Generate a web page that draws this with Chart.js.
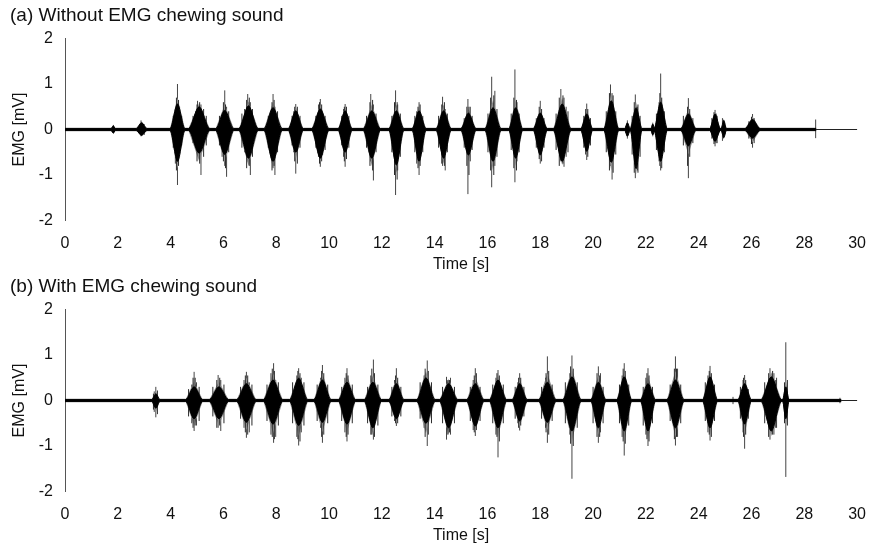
<!DOCTYPE html>
<html><head><meta charset="utf-8">
<script src="https://cdn.jsdelivr.net/npm/chart.js@4/dist/chart.umd.min.js"></script>
<style>
body{margin:0;background:#fff;width:879px;height:549px;overflow:hidden;position:relative}
canvas{position:absolute;left:0}
</style></head><body>
<canvas id="ca" width="879" height="275" style="top:0px"></canvas>
<canvas id="cb" width="879" height="275" style="top:271px"></canvas>
<script>
// ---------- axis ticks ----------
const xTicks = [0, 2, 4, 6, 8, 10, 12, 14, 16, 18, 20, 22, 24, 26, 28, 30];
const yTicks = [-2, -1, 0, 1, 2];

// ---------- panel (a) : Without EMG chewing sound ----------
const aBase = 0.025;     // baseline noise amplitude [mV]
const aEnd = 28.45;      // end of recorded trace [s]
const aBurstT    = [1.83, 2.9, 4.26, 5.08, 6.05, 6.95, 7.88, 8.74, 9.67, 10.61, 11.62, 12.55, 13.41, 14.34, 15.28, 16.21, 17.07, 18.0, 18.83, 19.76, 20.69, 21.3, 21.63, 22.26, 22.56, 23.61, 24.62, 24.95, 26.04];
const aBurstHalf = [0.08, 0.2, 0.28, 0.4, 0.34, 0.36, 0.34, 0.28, 0.32, 0.26, 0.32, 0.28, 0.26, 0.28, 0.28, 0.3, 0.26, 0.26, 0.33, 0.22, 0.28, 0.1, 0.22, 0.07, 0.25, 0.28, 0.2, 0.1, 0.28];
const aCoreHi    = [0.08, 0.15, 0.56, 0.5, 0.42, 0.52, 0.48, 0.41, 0.45, 0.41, 0.41, 0.41, 0.41, 0.41, 0.36, 0.48, 0.48, 0.36, 0.56, 0.34, 0.63, 0.15, 0.48, 0.12, 0.6, 0.34, 0.34, 0.2, 0.22];
const aCoreLo    = [-0.08, -0.13, -0.7, -0.52, -0.55, -0.63, -0.7, -0.5, -0.63, -0.5, -0.63, -0.78, -0.7, -0.63, -0.56, -0.7, -0.63, -0.56, -0.7, -0.48, -0.72, -0.15, -0.86, -0.12, -0.7, -0.36, -0.26, -0.18, -0.19];
const aOuterHi   = [0.09, 0.18, 0.7, 0.58, 0.55, 0.62, 0.6, 0.5, 0.55, 0.5, 0.55, 0.55, 0.5, 0.55, 0.45, 0.65, 0.65, 0.45, 0.7, 0.45, 0.8, 0.18, 0.6, 0.14, 0.75, 0.45, 0.38, 0.24, 0.28];
const aOuterLo   = [-0.09, -0.15, -0.85, -0.7, -0.72, -0.8, -0.85, -0.65, -0.72, -0.62, -0.8, -0.95, -0.85, -0.75, -0.7, -0.9, -0.8, -0.65, -0.78, -0.58, -0.9, -0.18, -0.98, -0.14, -0.8, -0.55, -0.32, -0.22, -0.28];
// tallest spikes
const aSpikeT  = [1.83, 2.88, 3.0, 4.26, 4.18, 4.34, 5.02, 5.15, 4.95, 6.05, 6.12, 5.95, 6.92, 7.02, 6.8, 7.88, 7.95, 7.78, 8.74, 8.66, 9.67, 9.6, 9.76, 10.61, 10.55, 11.58, 11.68, 11.5, 12.52, 12.6, 12.42, 13.41, 13.32, 14.3, 14.4, 14.2, 15.26, 15.35, 15.18, 16.16, 16.28, 17.04, 17.12, 18.0, 17.92, 18.78, 18.9, 18.98, 19.76, 20.66, 20.72, 21.3, 21.6, 21.68, 22.26, 22.56, 22.5, 23.61, 23.55, 24.62, 24.7, 24.9, 26.04, 28.43];
const aSpikeHi = [0.1, 0.2, 0.12, 1.0, 0.45, 0.5, 0.63, 0.55, 0.4, 0.86, 0.5, 0.35, 0.78, 0.6, 0.45, 0.78, 0.5, 0.3, 0.56, 0.4, 0.67, 0.55, 0.35, 0.56, 0.45, 0.78, 0.55, 0.3, 0.86, 0.55, 0.3, 0.6, 0.4, 0.72, 0.45, 0.2, 0.67, 0.5, 0.25, 1.16, 0.85, 1.32, 0.6, 0.63, 0.3, 0.89, 0.7, 0.5, 0.57, 0.99, 0.8, 0.2, 0.77, 0.5, 0.15, 1.23, 0.6, 0.69, 0.3, 0.43, 0.3, 0.25, 0.34, 0.22];
const aSpikeLo = [-0.08, -0.15, -0.12, -1.22, -0.75, -0.6, -0.55, -1.0, -0.45, -0.8, -1.04, -0.6, -0.7, -1.0, -0.5, -0.85, -1.0, -0.45, -0.97, -0.5, -0.82, -0.6, -0.55, -0.82, -0.6, -0.7, -1.12, -0.5, -1.44, -0.9, -0.4, -1.0, -0.75, -0.8, -0.9, -0.3, -1.42, -0.7, -0.3, -1.27, -0.8, -1.16, -0.7, -0.75, -0.4, -0.7, -0.82, -0.6, -0.67, -0.8, -1.1, -0.2, -1.07, -0.9, -0.15, -0.9, -0.7, -1.07, -0.3, -0.37, -0.3, -0.25, -0.4, -0.19];
// finer spikes inside the bursts
const aFineT  = [4.1, 4.22, 4.3, 4.42, 4.85, 5.0, 5.1, 5.25, 5.35, 5.85, 6.0, 6.08, 6.2, 6.7, 6.88, 6.98, 7.1, 7.7, 7.84, 7.92, 8.05, 8.6, 8.7, 8.8, 8.9, 9.5, 9.64, 9.72, 9.85, 10.48, 10.58, 10.66, 10.75, 11.42, 11.55, 11.65, 11.78, 12.38, 12.48, 12.58, 12.7, 13.25, 13.37, 13.45, 13.55, 14.15, 14.27, 14.37, 14.48, 15.12, 15.22, 15.3, 15.42, 16.02, 16.12, 16.24, 16.36, 16.9, 17.0, 17.1, 17.2, 17.85, 17.96, 18.05, 18.14, 18.6, 18.72, 18.86, 19.05, 19.65, 19.72, 19.8, 19.9, 20.5, 20.62, 20.76, 20.86, 21.48, 21.56, 21.7, 21.78, 22.4, 22.53, 22.6, 22.7, 23.42, 23.58, 23.66, 23.78, 24.5, 24.58, 24.66, 25.9, 26.0, 26.1];
const aFineHi = [0.3, 0.7, 0.65, 0.3, 0.3, 0.55, 0.6, 0.45, 0.3, 0.3, 0.6, 0.55, 0.4, 0.35, 0.65, 0.7, 0.45, 0.3, 0.6, 0.65, 0.4, 0.3, 0.5, 0.5, 0.3, 0.3, 0.6, 0.55, 0.3, 0.3, 0.5, 0.5, 0.3, 0.3, 0.6, 0.65, 0.35, 0.3, 0.6, 0.6, 0.35, 0.3, 0.5, 0.55, 0.3, 0.3, 0.55, 0.6, 0.35, 0.25, 0.5, 0.5, 0.3, 0.35, 0.7, 0.75, 0.45, 0.35, 0.7, 0.65, 0.35, 0.25, 0.5, 0.45, 0.25, 0.35, 0.7, 0.75, 0.4, 0.3, 0.45, 0.45, 0.25, 0.4, 0.8, 0.75, 0.4, 0.3, 0.6, 0.55, 0.3, 0.35, 0.8, 0.7, 0.4, 0.3, 0.5, 0.45, 0.25, 0.25, 0.38, 0.35, 0.18, 0.28, 0.25];
const aFineLo = [-0.4, -0.9, -0.8, -0.35, -0.3, -0.7, -0.75, -0.6, -0.35, -0.35, -0.7, -0.85, -0.5, -0.4, -0.85, -0.8, -0.6, -0.4, -0.9, -0.8, -0.5, -0.35, -0.7, -0.75, -0.4, -0.4, -0.75, -0.7, -0.45, -0.35, -0.7, -0.65, -0.4, -0.4, -0.8, -0.9, -0.5, -0.5, -1.0, -1.1, -0.6, -0.5, -0.85, -0.8, -0.5, -0.4, -0.75, -0.8, -0.5, -0.4, -0.8, -1.0, -0.45, -0.5, -0.9, -1.0, -0.6, -0.45, -0.85, -0.9, -0.5, -0.4, -0.65, -0.7, -0.4, -0.45, -0.8, -0.75, -0.5, -0.4, -0.55, -0.6, -0.35, -0.5, -0.9, -0.95, -0.55, -0.55, -0.95, -0.95, -0.6, -0.45, -0.8, -0.85, -0.5, -0.35, -0.8, -0.6, -0.3, -0.2, -0.32, -0.3, -0.2, -0.32, -0.3];

// ---------- panel (b) : With EMG chewing sound ----------
const bBase = 0.025;
const bEnd = 29.4;
const bBurstT    = [3.44, 4.89, 5.83, 6.87, 7.88, 8.85, 9.75, 10.68, 11.66, 12.55, 13.67, 14.53, 15.54, 16.4, 17.22, 18.27, 19.2, 20.2, 21.18, 22.08, 23.12, 24.43, 25.74, 26.75, 27.3];
const bBurstHalf = [0.15, 0.32, 0.36, 0.36, 0.36, 0.34, 0.32, 0.32, 0.32, 0.28, 0.34, 0.34, 0.32, 0.32, 0.28, 0.32, 0.34, 0.28, 0.28, 0.28, 0.32, 0.28, 0.25, 0.38, 0.12];
const bCoreHi    = [0.15, 0.3, 0.3, 0.37, 0.45, 0.49, 0.45, 0.4, 0.4, 0.37, 0.5, 0.37, 0.37, 0.45, 0.37, 0.4, 0.52, 0.4, 0.52, 0.37, 0.45, 0.52, 0.37, 0.52, 0.3];
const bCoreLo    = [-0.17, -0.4, -0.4, -0.48, -0.52, -0.55, -0.48, -0.52, -0.6, -0.4, -0.5, -0.6, -0.56, -0.6, -0.45, -0.48, -0.67, -0.6, -0.67, -0.67, -0.6, -0.6, -0.52, -0.67, -0.4];
const bOuterHi   = [0.2, 0.42, 0.42, 0.5, 0.6, 0.6, 0.6, 0.55, 0.55, 0.5, 0.65, 0.47, 0.52, 0.55, 0.48, 0.6, 0.7, 0.55, 0.65, 0.52, 0.65, 0.65, 0.47, 0.62, 0.45];
const bOuterLo   = [-0.25, -0.55, -0.55, -0.65, -0.72, -0.78, -0.7, -0.7, -0.75, -0.5, -0.72, -0.75, -0.68, -0.8, -0.58, -0.65, -0.9, -0.75, -0.9, -0.85, -0.8, -0.75, -0.75, -0.78, -0.6];
const bSpikeT  = [3.44, 3.38, 4.89, 4.8, 4.98, 5.8, 5.9, 6.87, 6.78, 6.98, 7.9, 7.8, 7.98, 8.85, 8.78, 8.95, 9.75, 9.68, 10.68, 10.6, 11.68, 11.58, 12.55, 12.48, 13.72, 13.6, 14.45, 14.6, 15.54, 15.46, 16.4, 16.32, 17.22, 17.15, 18.27, 18.2, 19.2, 19.12, 20.2, 20.28, 21.18, 21.1, 22.08, 22.0, 23.12, 23.2, 24.43, 24.35, 25.74, 25.68, 26.7, 26.85, 26.95, 27.3, 25.3, 29.35];
const bSpikeHi = [0.3, 0.2, 0.63, 0.35, 0.4, 0.56, 0.45, 0.63, 0.45, 0.4, 0.82, 0.6, 0.45, 0.71, 0.55, 0.5, 0.78, 0.5, 0.71, 0.5, 0.9, 0.55, 0.71, 0.45, 0.88, 0.55, 0.52, 0.5, 0.71, 0.45, 0.67, 0.5, 0.6, 0.4, 0.97, 0.5, 0.99, 0.6, 0.75, 0.6, 0.82, 0.55, 0.71, 0.5, 0.97, 0.7, 0.76, 0.55, 0.56, 0.45, 0.71, 0.6, 0.5, 1.28, 0.08, 0.06];
const bSpikeLo = [-0.37, -0.25, -0.67, -0.5, -0.55, -0.6, -0.67, -0.82, -0.6, -0.7, -0.93, -0.75, -0.8, -0.99, -0.8, -0.7, -0.93, -0.6, -0.9, -0.7, -0.86, -0.75, -0.56, -0.45, -1.0, -0.6, -0.86, -0.75, -0.78, -0.65, -1.25, -0.75, -0.66, -0.5, -0.93, -0.6, -1.72, -0.75, -0.93, -0.7, -1.21, -0.8, -1.0, -0.75, -0.99, -0.8, -0.88, -0.7, -1.06, -0.7, -0.86, -0.75, -0.6, -1.68, -0.08, -0.06];
const bFineT  = [3.35, 3.5, 4.68, 4.85, 4.93, 5.08, 5.6, 5.75, 5.86, 6.02, 6.65, 6.83, 6.92, 7.08, 7.65, 7.85, 7.93, 8.08, 8.62, 8.82, 8.9, 9.05, 9.55, 9.72, 9.8, 9.95, 10.48, 10.65, 10.72, 10.88, 11.46, 11.62, 11.72, 11.85, 12.38, 12.52, 12.6, 12.72, 13.45, 13.64, 13.76, 13.88, 14.3, 14.5, 14.56, 14.75, 15.35, 15.5, 15.58, 15.72, 16.2, 16.36, 16.45, 16.6, 17.05, 17.18, 17.26, 17.38, 18.05, 18.22, 18.32, 18.45, 18.95, 19.15, 19.25, 19.4, 20.0, 20.15, 20.25, 20.38, 21.0, 21.14, 21.22, 21.35, 21.9, 22.04, 22.12, 22.25, 22.92, 23.08, 23.16, 23.32, 24.25, 24.4, 24.48, 24.6, 25.58, 25.7, 25.78, 25.88, 26.5, 26.65, 26.8, 26.92, 27.25, 27.36];
const bFineHi = [0.15, 0.22, 0.25, 0.5, 0.5, 0.3, 0.3, 0.45, 0.5, 0.35, 0.3, 0.55, 0.55, 0.35, 0.35, 0.7, 0.65, 0.4, 0.4, 0.65, 0.6, 0.4, 0.35, 0.65, 0.6, 0.35, 0.3, 0.6, 0.55, 0.35, 0.3, 0.7, 0.6, 0.35, 0.3, 0.55, 0.5, 0.3, 0.4, 0.7, 0.65, 0.4, 0.3, 0.45, 0.45, 0.3, 0.3, 0.55, 0.6, 0.3, 0.35, 0.6, 0.55, 0.35, 0.3, 0.5, 0.5, 0.3, 0.3, 0.6, 0.65, 0.35, 0.4, 0.75, 0.7, 0.4, 0.3, 0.6, 0.55, 0.3, 0.35, 0.7, 0.65, 0.35, 0.3, 0.6, 0.55, 0.3, 0.35, 0.7, 0.7, 0.35, 0.4, 0.65, 0.6, 0.35, 0.3, 0.5, 0.45, 0.25, 0.4, 0.6, 0.65, 0.45, 0.4, 0.45];
const bFineLo = [-0.2, -0.3, -0.35, -0.6, -0.55, -0.45, -0.35, -0.6, -0.55, -0.5, -0.4, -0.7, -0.75, -0.55, -0.45, -0.8, -0.85, -0.55, -0.5, -0.85, -0.9, -0.55, -0.45, -0.8, -0.75, -0.5, -0.45, -0.8, -0.75, -0.5, -0.5, -0.75, -0.8, -0.55, -0.35, -0.5, -0.5, -0.35, -0.4, -0.8, -0.75, -0.5, -0.5, -0.75, -0.7, -0.5, -0.45, -0.7, -0.65, -0.45, -0.5, -0.8, -0.9, -0.5, -0.4, -0.6, -0.55, -0.35, -0.4, -0.7, -0.75, -0.45, -0.5, -0.95, -1.0, -0.6, -0.5, -0.8, -0.8, -0.5, -0.5, -0.9, -0.95, -0.55, -0.55, -0.85, -0.9, -0.5, -0.45, -0.85, -0.8, -0.5, -0.45, -0.75, -0.8, -0.45, -0.4, -0.8, -0.75, -0.4, -0.5, -0.8, -0.75, -0.6, -0.5, -0.55];

// ---------- build datasets from the arrays ----------
function envelope(T, H, HI, LO, base, end) {
  const up = [{x: 0, y: base}], dn = [{x: 0, y: -base}];
  for (let i = 0; i < T.length; i++) {
    up.push({x: T[i] - H[i], y: base}, {x: T[i], y: HI[i]}, {x: T[i] + H[i], y: base});
    dn.push({x: T[i] - H[i], y: -base}, {x: T[i], y: LO[i]}, {x: T[i] + H[i], y: -base});
  }
  up.push({x: end, y: base}); dn.push({x: end, y: -base});
  return [up, dn];
}
function spikes(T, HI, LO) {
  const pts = [];
  for (let i = 0; i < T.length; i++) {
    pts.push({x: T[i], y: LO[i]}, {x: T[i], y: HI[i]}, {x: T[i], y: null});
  }
  return pts;
}

const FONT = "'Liberation Sans', Arial, sans-serif";
const TXT = '#111';

function makeChart(id, title, T, H, HI, LO, OHI, OLO, base, end, ST, SH, SL, FT, FH, FL) {
  const [up, dn] = envelope(T, H, HI, LO, base, end);
  const [oup, odn] = envelope(T, H, OHI, OLO, base, end);
  new Chart(document.getElementById(id), {
    type: 'scatter',
    data: {
      datasets: [
        {data: up, showLine: true, borderColor: '#000', backgroundColor: '#000', borderWidth: 1, pointRadius: 0, cubicInterpolationMode: 'monotone', fill: '+1'},
        {data: dn, showLine: true, borderColor: '#000', backgroundColor: '#000', borderWidth: 1, pointRadius: 0, cubicInterpolationMode: 'monotone', fill: false},
        {data: spikes(FT, FH, FL), showLine: true, spanGaps: false, borderColor: '#2a2a2a', borderWidth: 1, pointRadius: 0, tension: 0},
        {data: oup, showLine: true, borderColor: 'rgba(0,0,0,0)', backgroundColor: '#8c8c8c', borderWidth: 0, pointRadius: 0, tension: 0, fill: '+1'},
        {data: odn, showLine: true, borderColor: 'rgba(0,0,0,0)', backgroundColor: '#8c8c8c', borderWidth: 0, pointRadius: 0, tension: 0, fill: false},
        {data: spikes(ST, SH, SL), showLine: true, spanGaps: false, borderColor: '#444', borderWidth: 1, pointRadius: 0, tension: 0}
      ]
    },
    options: {
      responsive: false, animation: false, devicePixelRatio: 1,
      layout: {padding: {left: 10, right: 9, top: 0, bottom: 0}},
      plugins: {
        legend: {display: false}, tooltip: {enabled: false},
        title: {display: true, text: title, align: 'start', color: TXT,
                font: {family: FONT, size: 19, weight: 'normal'}, padding: {top: 4, bottom: 11.7}}
      },
      scales: {
        x: {
          type: 'linear', min: xTicks[0], max: xTicks[xTicks.length - 1],
          afterBuildTicks: s => { s.ticks = xTicks.map(v => ({value: v})); },
          border: {display: false}, grid: {display: false, drawTicks: false},
          ticks: {color: TXT, font: {family: FONT, size: 16}, padding: 13, maxRotation: 0, autoSkip: false},
          title: {display: true, text: 'Time [s]', color: TXT, font: {family: FONT, size: 16}, padding: {top: 0, bottom: 1}},
          afterFit: s => { s.height = 54.5; }
        },
        y: {
          min: yTicks[0], max: yTicks[yTicks.length - 1],
          afterBuildTicks: s => { s.ticks = yTicks.map(v => ({value: v})); },
          border: {display: true, color: '#555', width: 1},
          grid: {drawTicks: false, color: c => (c.tick && c.tick.value === 0) ? '#222' : 'rgba(0,0,0,0)'},
          ticks: {color: TXT, font: {family: FONT, size: 16}, padding: 12},
          title: {display: true, text: 'EMG [mV]', color: TXT, font: {family: FONT, size: 16}, padding: {top: 0, bottom: 0}},
          afterFit: s => { s.width = 55; }
        }
      }
    }
  });
}

makeChart('ca', '(a) Without EMG chewing sound', aBurstT, aBurstHalf, aCoreHi, aCoreLo, aOuterHi, aOuterLo, aBase, aEnd, aSpikeT, aSpikeHi, aSpikeLo, aFineT, aFineHi, aFineLo);
makeChart('cb', '(b) With EMG chewing sound', bBurstT, bBurstHalf, bCoreHi, bCoreLo, bOuterHi, bOuterLo, bBase, bEnd, bSpikeT, bSpikeHi, bSpikeLo, bFineT, bFineHi, bFineLo);
</script>
</body></html>
